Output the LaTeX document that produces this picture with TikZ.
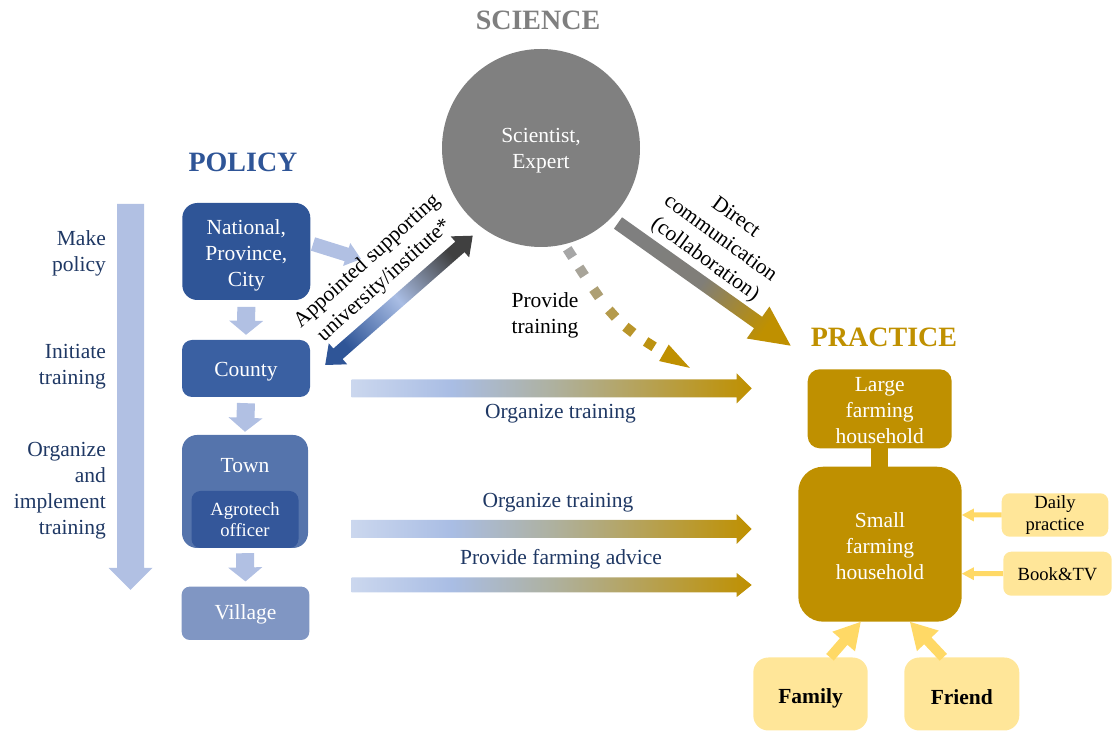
\documentclass[tikz,border=0pt]{standalone}
\usepackage{fontspec}
\setmainfont{Liberation Serif}
\usetikzlibrary{calc,decorations.markings}
\definecolor{NB}{HTML}{2F5597}
\definecolor{CB}{HTML}{3A60A2}
\definecolor{TB}{HTML}{5574AC}
\definecolor{AB}{HTML}{34579A}
\definecolor{VB}{HTML}{8096C3}
\definecolor{LB}{HTML}{B1C0E3}
\definecolor{DB}{HTML}{1F3864}
\definecolor{SG}{HTML}{7F7F7F}
\definecolor{CG}{HTML}{808080}
\definecolor{DGy}{HTML}{404040}
\definecolor{GD}{HTML}{BF9000}
\definecolor{YB}{HTML}{FFE699}
\definecolor{YA}{HTML}{FFD966}
\definecolor{HA}{HTML}{CBD7EE}
\definecolor{HB}{HTML}{A9BDE4}
\definecolor{HC}{HTML}{AEB1A0}
\definecolor{MIDC}{HTML}{807E78}
\definecolor{Q1}{HTML}{A6A6A6}
\pgfdeclarehorizontalshading{hgrad}{100bp}{color(0bp)=(HA); color(25bp)=(HA); color(37.5bp)=(HB); color(50bp)=(HC); color(75bp)=(GD); color(100bp)=(GD)}
\newcommand\fs{\fontsize{21.5}{26}\selectfont}
\newcommand\fss{\fontsize{18.6}{21.7}\selectfont}
\newcommand\fh{\bfseries\fontsize{28}{30}\selectfont}
% block arrow: #1 options, #2 start, #3 end, #4 half shaft, #5 half head, #6 head length
\newcommand\blkarrow[6]{%
  \coordinate (bxB) at ($(#3)!#6!(#2)$);
  \path[#1] ($(#2)!#4!90:(#3)$) -- ($(bxB)!#4!-90:(#2)$) -- ($(bxB)!#5!-90:(#2)$) -- (#3)
    -- ($(bxB)!#5!90:(#2)$) -- ($(bxB)!#4!90:(#2)$) -- ($(#2)!#4!-90:(#3)$) -- cycle;}
\newcommand\dblarrow[6]{%
  \coordinate (bxA) at ($(#2)!#6!(#3)$);
  \coordinate (bxB) at ($(#3)!#6!(#2)$);
  \path[#1] (#2) -- ($(bxA)!#5!90:(#3)$) -- ($(bxA)!#4!90:(#3)$) -- ($(bxB)!#4!-90:(#2)$)
    -- ($(bxB)!#5!-90:(#2)$) -- (#3) -- ($(bxB)!#5!90:(#2)$) -- ($(bxB)!#4!90:(#2)$)
    -- ($(bxA)!#4!-90:(#3)$) -- ($(bxA)!#5!-90:(#3)$) -- cycle;}
\tikzset{
  pbox/.style={rectangle, text=white, align=center, inner sep=0pt, font=\fs},
  ptext/.style={text=white, align=center, inner sep=0pt, font=\fs},
  gbox/.style={rectangle, fill=GD, text=white, align=center, inner sep=0pt, font=\fs},
  ybox/.style={rectangle, fill=YB, text=black, align=center, inner sep=0pt, font=\fss},
  lbl/.style={text=DB, font=\fs, inner sep=0pt, align=center},
  rlbl/.style={text=DB, font=\fs, inner sep=0pt, align=right, anchor=east},
}
\begin{document}
\begin{tikzpicture}[x=1pt,y=1pt]
\useasboundingbox (0,0) rectangle (1112,731);

% headers
\node[font=\fh, text=SG] (hsci) at (538,711) {SCIENCE};
\node[font=\fh, text=NB] (hpol) at (243,569) {POLICY};
\node[font=\fh, text=GD] (hpra) at (884,394) {PRACTICE};

% science circle
\node[circle, fill=CG, minimum size=198pt, inner sep=0pt] (sci) at (541,583) {};
\node[ptext] (scit) at ($(sci.center)+(0,-2.5)$) {Scientist,\\Expert};

% policy boxes
\node[pbox, fill=NB, minimum width=128pt, minimum height=97pt, rounded corners=15pt] (nat) at (246.3,479.5) {};
\node[ptext] (natt) at ($(nat.center)+(0,-3.5)$) {National,\\Province,\\City};
\node[pbox, fill=CB, minimum width=128pt, minimum height=57pt, rounded corners=10pt] (cty) at (246,362.5) {};
\node[ptext] (ctyt) at ($(cty.center)+(0,-3)$) {County};
\node[pbox, fill=TB, minimum width=126pt, minimum height=113pt, rounded corners=15pt] (twn) at (245,239.5) {};
\node[ptext] (twnl) at (245,265) {Town};
\node[pbox, fill=AB, minimum width=107pt, minimum height=57pt, rounded corners=9pt, font=\fss] (agr) at (245,211.5) {Agrotech\\officer};
\node[pbox, fill=VB, minimum width=127.6pt, minimum height=53.3pt, rounded corners=8pt] (vil) at (245.5,117.7) {};
\node[ptext] (vilt) at ($(vil.center)+(0,-1.5)$) {Village};

% small down arrows
\coordinate (a1s) at ($(nat.south)+(0,-6.7)$); \coordinate (a1e) at ($(cty.north)+(0,5)$);
\coordinate (a2s) at ($(cty.south)+(0,-6)$);  \coordinate (a2e) at ($(twn.north)+(0,3)$);
\coordinate (a3s) at ($(twn.south)+(0,-5)$);  \coordinate (a3e) at ($(vil.north)+(0,5)$);
\blkarrow{fill=LB}{a1s}{a1e}{9pt}{17pt}{14pt}
\blkarrow{fill=LB}{a2s}{a2e}{9pt}{17pt}{14pt}
\blkarrow{fill=LB}{a3s}{a3e}{9pt}{17pt}{14pt}

% big left arrow
\coordinate (lt) at (130.5,527); \coordinate (lb) at (130.5,141);
\blkarrow{fill=LB}{lt}{lb}{13.5pt}{22pt}{22pt}
\node[rlbl] (l1) at (106,478) {Make\\policy};
\node[rlbl] (l2) at (106,364) {Initiate\\training};
\node[rlbl] (l3) at (106,240) {Organize\\and\\implement\\training};

% national -> arrow
\coordinate (nas) at ($(nat.east)+(2.5,7.5)$); \coordinate (nae) at (361,472);
\blkarrow{fill=LB}{nas}{nae}{7pt}{12pt}{15pt}

% appointed double arrow
\coordinate (aps) at ($(cty.east)+(15,3.5)$); \coordinate (ape) at ($(sci.center)+(-68.3,-87.7)$);
\dblarrow{bottom color=NB, top color=DGy, middle color=HB, shading angle=-48.5}{aps}{ape}{7pt}{14pt}{17pt}
\node[rotate=42, align=center, font=\fs, inner sep=0pt] (apt) at (376,460) {Appointed supporting\\university/institute*};

% direct communication arrow
\coordinate (dcs) at ($(sci.center)+(77,-75)$); \coordinate (dce) at (790.7,385.3);
\blkarrow{bottom color=SG, top color=GD, middle color=MIDC, shading angle=-125.4}{dcs}{dce}{7pt}{19.6pt}{40pt}
\node[rotate=-36, align=center, font=\fs, inner sep=0pt] (dct) at (720,492) {Direct\\communication\\(collaboration)};

% dotted provide training arrow
\coordinate (dts) at ($(sci.center)+(27,-102)$); \coordinate (dtc) at (616,406); \coordinate (dte) at (690,363);
\path[postaction={decorate}, decoration={markings,
  mark=at position 3.6pt with {\fill[Q1] (-5pt,-5pt) rectangle (5pt,5pt);},
  mark=at position 25.6pt with {\fill[GD!8!Q1] (-5pt,-5pt) rectangle (5pt,5pt);},
  mark=at position 51.6pt with {\fill[GD!30!Q1] (-5pt,-5pt) rectangle (5pt,5pt);},
  mark=at position 77.6pt with {\fill[GD!55!Q1] (-5pt,-5pt) rectangle (5pt,5pt);},
  mark=at position 101.2pt with {\fill[GD!75!Q1] (-5pt,-5pt) rectangle (5pt,5pt);},
  mark=at position 126.2pt with {\fill[GD!90!Q1] (-5pt,-5pt) rectangle (5pt,5pt);},
  mark=at position 0.999 with {\fill[GD] (0pt,0pt) -- (-30pt,9.5pt) -- (-30pt,-9.5pt) -- cycle;}}]
  (dts) .. controls (dtc) .. (dte);
\node[align=center, font=\fs, inner sep=0pt] (ptr) at (545,415.5) {Provide\\training};

% horizontal arrows
\coordinate (h1s) at (351.7,342.7); \coordinate (h1e) at (751.7,342.7);
\coordinate (h2s) at (351.7,202);   \coordinate (h2e) at (751.7,202);
\coordinate (h3s) at (351.7,146);   \coordinate (h3e) at (751.7,146);
\blkarrow{shade, shading=hgrad}{h1s}{h1e}{9pt}{15pt}{15pt}
\blkarrow{shade, shading=hgrad}{h2s}{h2e}{9pt}{15pt}{15pt}
\blkarrow{shade, shading=hgrad}{h3s}{h3e}{7.5pt}{12pt}{15pt}
\node[lbl] (ot1) at (560.5,317.3) {Organize training};
\node[lbl] (ot2) at (558,228.3) {Organize training};
\node[lbl] (pfa) at (561,171.7) {Provide farming advice};

% practice boxes
\node[gbox, minimum width=144pt, minimum height=79pt, rounded corners=12pt] (lg) at (879.7,322.2) {};
\node[ptext] (lgt) at ($(lg.center)+(0,-1.5)$) {Large\\farming\\household};
\node[gbox, minimum width=163.4pt, minimum height=155pt, rounded corners=25pt] (sm) at (880,186.8) {};
\node[ptext] (smt) at ($(sm.center)+(0,-1.5)$) {Small\\farming\\household};
\fill[GD] ($(lg.south)+(-8.3,1)$) rectangle ($(sm.north)+(8.3,-1)$);
\node[ybox, minimum width=106.6pt, minimum height=43.4pt, rounded corners=8pt] (dly) at (1055,216) {Daily\\practice};
\node[ybox, minimum width=108.4pt, minimum height=44pt, rounded corners=8pt] (bk) at (1057.5,157.3) {Book\&TV};
\node[ybox, minimum width=114.4pt, minimum height=73pt, rounded corners=15pt] (fam) at (810.5,37) {};
\node[font=\bfseries\fs, inner sep=0pt, text=black] (famt) at ($(fam.center)+(0,-4)$) {Family};
\node[ybox, minimum width=115pt, minimum height=73pt, rounded corners=15pt] (frd) at (961.8,37) {};
\node[font=\bfseries\fs, inner sep=0pt, text=black] (frdt) at ($(frd.center)+(0,-3)$) {Friend};

\coordinate (dle) at (sm.east|-dly.west);
\coordinate (bke) at (sm.east|-bk.west);
\blkarrow{fill=YA}{dly.west}{dle}{2.5pt}{6.5pt}{12pt}
\blkarrow{fill=YA}{bk.west}{bke}{2.5pt}{6.5pt}{12pt}
\coordinate (fas) at ($(fam.north)+(19.5,0)$); \coordinate (fae) at ($(sm.south)+(-19.3,0)$);
\coordinate (frs) at ($(frd.north)+(-18.5,0)$); \coordinate (fre) at ($(sm.south)+(30,0)$);
\blkarrow{fill=YA}{fas}{fae}{5pt}{15pt}{26pt}
\blkarrow{fill=YA}{frs}{fre}{5pt}{15pt}{26pt}
\end{tikzpicture}
\end{document}
